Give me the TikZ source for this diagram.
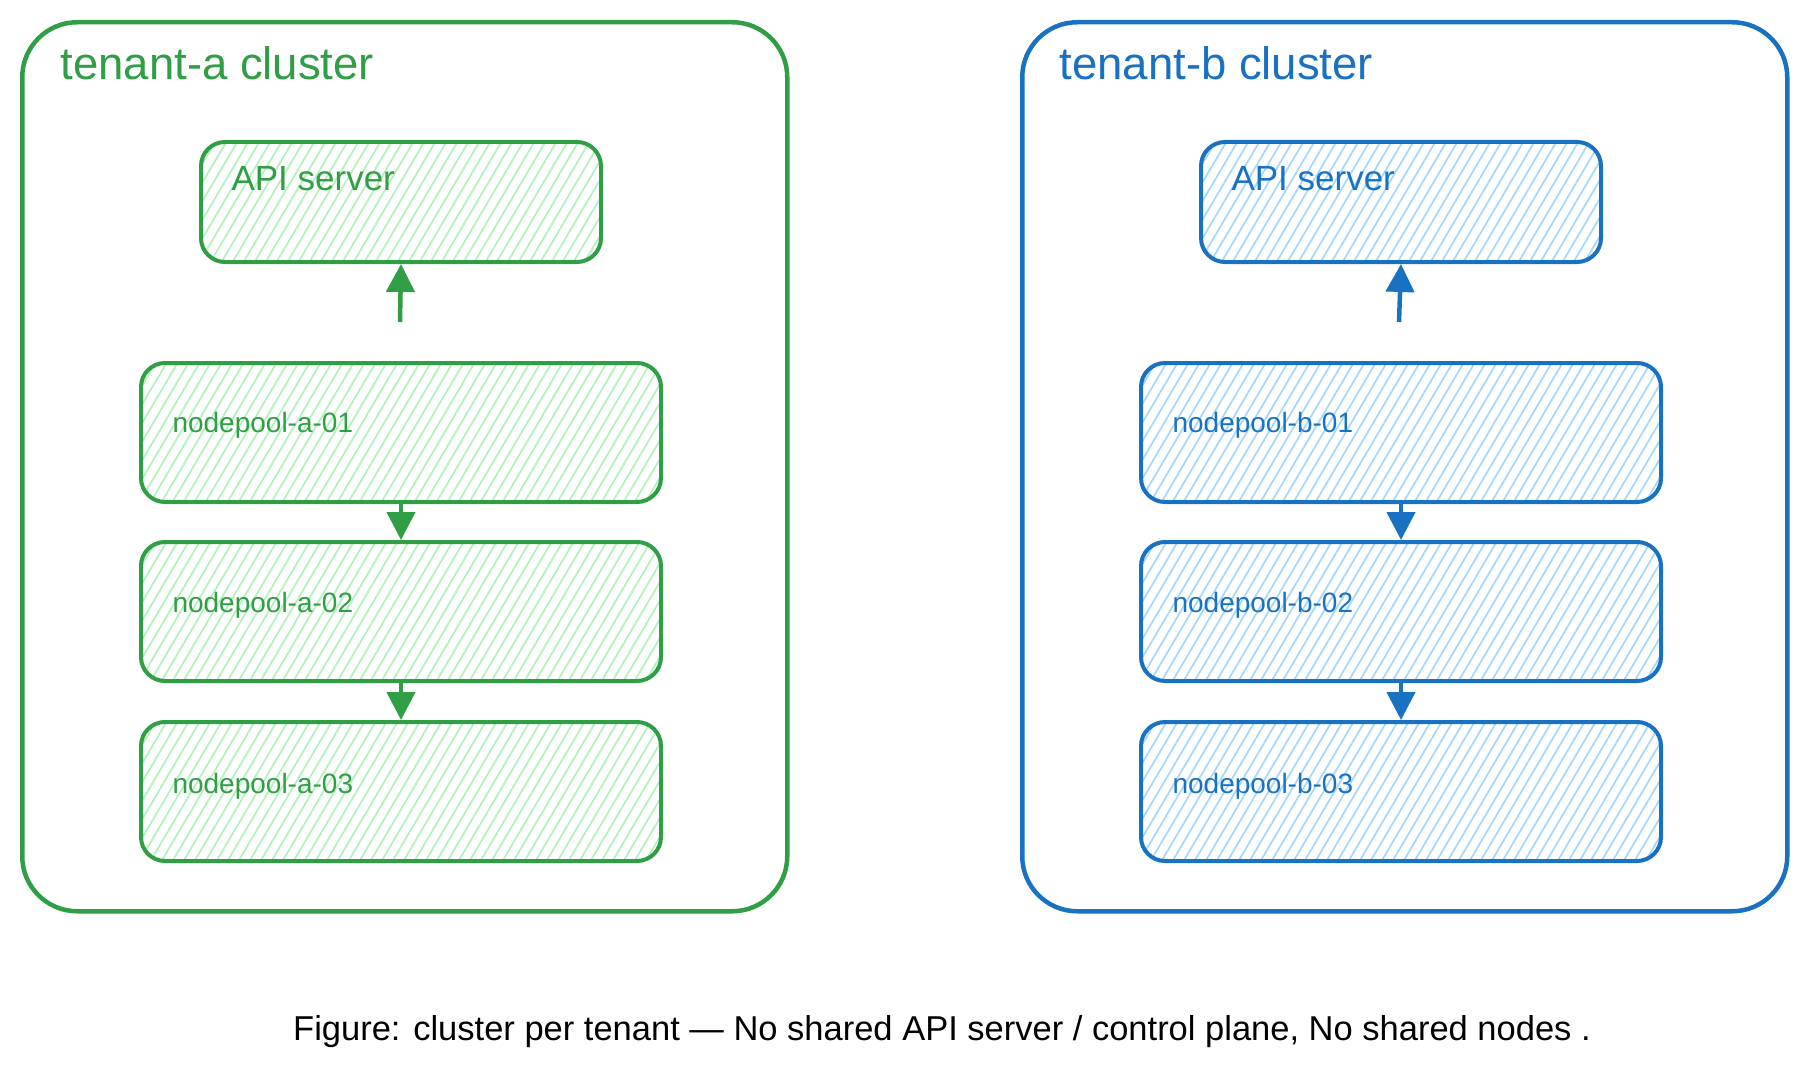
\documentclass[tikz,border=0pt]{standalone}
\usepackage{fontspec}
\setmainfont{Liberation Sans}
\usetikzlibrary{arrows.meta,calc}
\definecolor{gstroke}{HTML}{2F9E44}
\definecolor{gfill}{HTML}{B2F2BB}
\definecolor{bstroke}{HTML}{1971C2}
\definecolor{bfill}{HTML}{A5D8FF}
\newcommand\hatchlines[1]{%
  \foreach \k in {0,...,66}{%
    \draw[#1, line width=1.7pt]
      ($(path picture bounding box.south west)+(\k*11pt-115pt,-6pt)$) -- ++(115pt,195pt);
  }}
\tikzset{
  cluster/.style={draw=#1, line width=4.5pt, rounded corners=55pt, anchor=north west,
    inner sep=0pt, minimum width=765pt, minimum height=889pt},
  hbox/.style 2 args={draw=#1, line width=4pt, rounded corners=24pt, anchor=north west,
    inner sep=0pt, path picture={\hatchlines{#2}}},
  conn/.style={draw=#1, line width=4.5pt, -{Triangle[length=28pt,width=28pt]}, shorten <=0pt},
  titlelbl/.style={anchor=base west, text=#1, font=\fontsize{45.5}{50}\selectfont},
  apilbl/.style={anchor=base west, text=#1, font=\fontsize{35}{40}\selectfont},
  nplbl/.style={anchor=base west, text=#1, font=\fontsize{28}{32}\selectfont},
  caplbl/.style={anchor=base, text=black, font=\fontsize{34.5}{38}\selectfont}
}
\begin{document}
\begin{tikzpicture}[x=1pt,y=-1pt]
\useasboundingbox[fill=white] (0,0) rectangle (1804,1070);

% ---------- tenant A ----------
\node[cluster=gstroke] (ca) at (20,20) {};
\node[titlelbl=gstroke] (ca-title) at (57,80) {tenant-a cluster};
\node[hbox={gstroke}{gfill}, minimum width=400pt, minimum height=120pt] (apiA) at (199,140) {};
\node[apilbl=gstroke] (apiA-t) at (228,190) {API server};
\node[hbox={gstroke}{gfill}, minimum width=520pt, minimum height=139pt] (npA1) at (139,361) {};
\node[nplbl=gstroke] (npA1-t) at (169,432) {nodepool-a-01};
\node[hbox={gstroke}{gfill}, minimum width=520pt, minimum height=139pt] (npA2) at (139,540) {};
\node[nplbl=gstroke] (npA2-t) at (169,612) {nodepool-a-02};
\node[hbox={gstroke}{gfill}, minimum width=520pt, minimum height=139pt] (npA3) at (139,720) {};
\node[nplbl=gstroke] (npA3-t) at (169,793) {nodepool-a-03};
\coordinate (tailA) at (400,322);
\draw[conn=gstroke] (tailA) -- (apiA.south);
\draw[conn=gstroke] (npA1.south) -- (npA2.north);
\draw[conn=gstroke] (npA2.south) -- (npA3.north);

% ---------- tenant B ----------
\node[cluster=bstroke] (cb) at (1020,20) {};
\node[titlelbl=bstroke] (cb-title) at (1056,80) {tenant-b cluster};
\node[hbox={bstroke}{bfill}, minimum width=400pt, minimum height=120pt] (apiB) at (1199,140) {};
\node[apilbl=bstroke] (apiB-t) at (1228,190) {API server};
\node[hbox={bstroke}{bfill}, minimum width=520pt, minimum height=139pt] (npB1) at (1139,361) {};
\node[nplbl=bstroke] (npB1-t) at (1169,432) {nodepool-b-01};
\node[hbox={bstroke}{bfill}, minimum width=520pt, minimum height=139pt] (npB2) at (1139,540) {};
\node[nplbl=bstroke] (npB2-t) at (1169,612) {nodepool-b-02};
\node[hbox={bstroke}{bfill}, minimum width=520pt, minimum height=139pt] (npB3) at (1139,720) {};
\node[nplbl=bstroke] (npB3-t) at (1169,793) {nodepool-b-03};
\coordinate (tailB) at (1399,322);
\draw[conn=bstroke] (tailB) -- (apiB.south);
\draw[conn=bstroke] (npB1.south) -- (npB2.north);
\draw[conn=bstroke] (npB2.south) -- (npB3.north);

% ---------- caption ----------
\node[caplbl] (cap) at (942,1040) {Figure: cluster per tenant — No shared API server / control plane, No shared nodes .};
\end{tikzpicture}
\end{document}
